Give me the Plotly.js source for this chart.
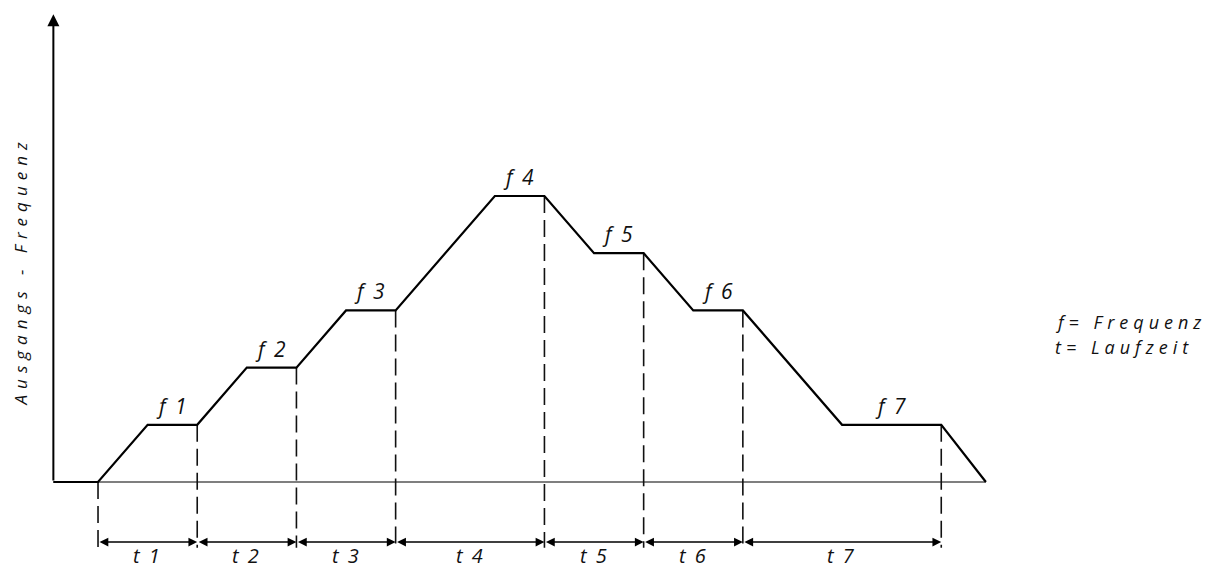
<!DOCTYPE html>
<html><head><meta charset="utf-8">
<script src="https://cdn.plot.ly/plotly-3.0.1.min.js"></script>
<style>html,body{margin:0;padding:0;background:#fff}#chart{width:1224px;height:571px}</style>
</head><body><div id="chart"></div>
<script>
// ---- data ----
const time = [-0.9, 0, 1, 2, 3, 4, 5, 6, 8, 9, 10, 11, 12, 13, 15, 17, 17.9];
const freq = [0, 0, 1, 1, 2, 2, 3, 3, 5, 5, 4, 4, 3, 3, 1, 1, 0];
const stepStart = [1, 3, 5, 8, 10, 12, 15];
const stepEnd = [2, 4, 6, 9, 11, 13, 17];
const stepLevel = [1, 2, 3, 5, 4, 3, 1];
const runStart = [0, 2, 4, 6, 9, 11, 13];
const fLabels = ['f 1', 'f 2', 'f 3', 'f 4', 'f 5', 'f 6', 'f 7'];
const tLabels = ['t 1', 't 2', 't 3', 't 4', 't 5', 't 6', 't 7'];
const yTitle = 'Ausgangs - Frequenz';
const keyLines = ['f= Frequenz', 't= Laufzeit'];

// ---- layout constants ----
const X0 = -1.976, X1 = 22.70, Y0 = -1.556, Y1 = 8.427;
const AXIS_TOP = 8.18, DIM_Y = -1.05, DASH_BOTTOM = -1.15, TLABEL_Y = -1.29;
const FONT = {family: '"Open Sans", "DejaVu Sans", sans-serif', color: '#111', style: 'italic'};

const traces = [];
// baseline (time axis)
traces.push({x: [time[0], time[time.length - 1]], y: [0, 0], mode: 'lines',
  line: {color: '#000', width: 1.2}, hoverinfo: 'skip'});
// dashed boundaries
const bx = [], by = [];
const bounds = [runStart[0]].concat(stepEnd);
const levels = [0].concat(stepLevel);
bounds.forEach((b, i) => { bx.push(b, b, null); by.push(levels[i], DASH_BOTTOM, null); });
traces.push({x: bx, y: by, mode: 'lines', line: {color: '#111', width: 1.6, dash: '17px,7px'}, hoverinfo: 'skip'});
// main frequency profile
traces.push({x: time, y: freq, mode: 'lines', line: {color: '#000', width: 2.2}, hoverinfo: 'skip'});

const ann = [];
// y axis arrow
ann.push({x: time[0], y: AXIS_TOP, ax: time[0], ay: 0, xref: 'x', yref: 'y', axref: 'x', ayref: 'y',
  text: '', showarrow: true, arrowhead: 2, arrowsize: 1.2, arrowwidth: 2, arrowcolor: '#000', standoff: 0});
// dimension arrows
runStart.forEach((s, i) => {
  ann.push({x: stepEnd[i], y: DIM_Y, ax: s, ay: DIM_Y, xref: 'x', yref: 'y', axref: 'x', ayref: 'y',
    text: '', showarrow: true, arrowside: 'end+start', arrowhead: 2, startarrowhead: 2,
    arrowsize: 1.1, startarrowsize: 1.1, arrowwidth: 1.6, arrowcolor: '#000', standoff: 0, startstandoff: 0});
  ann.push({x: (s + stepEnd[i]) / 2, y: TLABEL_Y, xref: 'x', yref: 'y', text: tLabels[i], showarrow: false,
    font: Object.assign({size: 20}, FONT), xanchor: 'center', yanchor: 'middle'});
});
// f labels
stepStart.forEach((s, i) => {
  ann.push({x: (s + stepEnd[i]) / 2, y: stepLevel[i], xref: 'x', yref: 'y', text: fLabels[i], showarrow: false,
    font: Object.assign({size: 21}, FONT), xanchor: 'center', yanchor: 'middle', yshift: 19});
});
// y title
ann.push({x: 0.0165, y: 0.525, xref: 'paper', yref: 'paper', text: yTitle, textangle: -90, showarrow: false,
  font: Object.assign({size: 17}, FONT), xanchor: 'center', yanchor: 'middle'});
// key
ann.push({x: 0.860, y: 0.436, xref: 'paper', yref: 'paper', text: keyLines[0], showarrow: false,
  font: Object.assign({size: 18}, FONT), xanchor: 'left', yanchor: 'middle', align: 'left'});
ann.push({x: 0.860, y: 0.392, xref: 'paper', yref: 'paper', text: keyLines[1], showarrow: false,
  font: Object.assign({size: 18}, FONT), xanchor: 'left', yanchor: 'middle', align: 'left'});

const layout = {
  width: 1224, height: 571, margin: {l: 0, r: 0, t: 0, b: 0},
  paper_bgcolor: '#fff', plot_bgcolor: '#fff', showlegend: false, hovermode: false, dragmode: false,
  xaxis: {range: [X0, X1], visible: false, fixedrange: true},
  yaxis: {range: [Y0, Y1], visible: false, fixedrange: true},
  annotations: ann
};

Plotly.newPlot('chart', traces, layout, {displayModeBar: false, staticPlot: true}).then(() => {
  document.querySelectorAll('.annotation-text').forEach(el => {
    const t = el.textContent;
    if (t === yTitle) el.style.letterSpacing = '6px';
    else if (keyLines.includes(t)) el.style.letterSpacing = '5px';
    else el.style.letterSpacing = '2px';
  });
});
</script>
</body></html>
